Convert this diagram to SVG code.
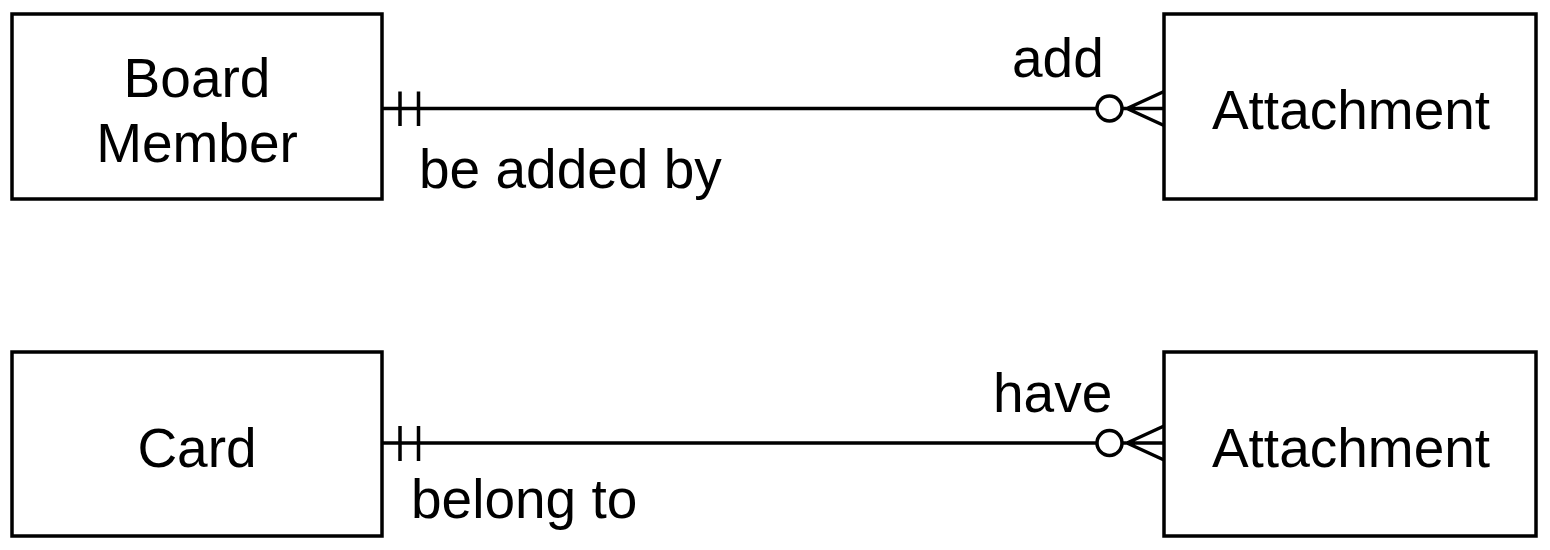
<svg xmlns="http://www.w3.org/2000/svg" width="1550" height="550" viewBox="0 0 1550 550">
<style>
.box{fill:#fff;stroke:#000;stroke-width:3.5}
.ln{fill:none;stroke:#000;stroke-width:3.5}
text{font-family:"Liberation Sans",Arial,Helvetica,sans-serif;font-size:55px;fill:#000}
.c{text-anchor:middle}
</style>
<g id="board-member"><rect class="box" x="12" y="14" width="370" height="185"/><text class="c" x="197" y="97">Board</text><text class="c" x="197" y="162">Member</text></g>
<g id="attachment-1"><rect class="box" x="1164" y="14" width="372" height="185"/><text class="c" x="1351" y="129">Attachment</text></g>
<g id="card"><rect class="box" x="12" y="352" width="370" height="184"/><text class="c" x="197" y="467">Card</text></g>
<g id="attachment-2"><rect class="box" x="1164" y="352" width="372" height="184"/><text class="c" x="1351" y="467">Attachment</text></g>
<g id="connectors">
<g id="c1">
<path class="ln" d="M382 108.5H1097M1122 108.5H1164M400 91.5V126M418.5 91.5V126M1127 108.5L1164 91.5M1127 108.5L1164 125.5"/>
<circle class="ln" cx="1109.5" cy="108.5" r="12.5"/>
<text x="1012" y="77">add</text>
<text x="419" y="188">be added by</text>
</g>
<g id="c2">
<path class="ln" d="M382 443H1097M1122 443H1164M400 426V461M418.5 426V461M1127 443L1164 426M1127 443L1164 460"/>
<circle class="ln" cx="1109.5" cy="443" r="12.5"/>
<text x="993" y="412">have</text>
<text x="411" y="518">belong to</text>
</g>
</g>
</svg>
